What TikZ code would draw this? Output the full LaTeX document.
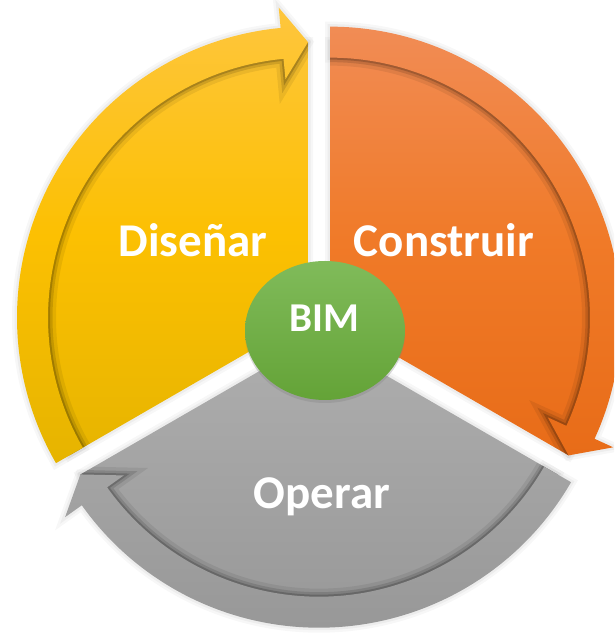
\documentclass[tikz,border=0pt]{standalone}
\usepackage{fontspec}
\setmainfont{Carlito}
\usetikzlibrary{shapes.geometric,shadows}
\definecolor{ytop}{RGB}{254,198,62}
\definecolor{ymid}{RGB}{252,192,2}
\definecolor{ybot}{RGB}{230,180,0}
\definecolor{otop}{RGB}{241,140,85}
\definecolor{omid}{RGB}{240,122,40}
\definecolor{obot}{RGB}{232,108,24}
\definecolor{gtop}{RGB}{174,174,174}
\definecolor{gbot}{RGB}{152,152,152}
\definecolor{etop}{RGB}{128,187,90}
\definecolor{ebot}{RGB}{100,163,55}
\newcommand{\bodyp}[2]{(0,0) -- (#1:275.5) arc[start angle=#1, end angle=#2, radius=275.5] -- cycle}
\newcommand{\rimp}[2]{(#1:260) -- (#1:291) arc[start angle=#1, end angle={#2+5.4}, radius=291] -- ({#2+5.4}:311.5) -- (#2:275.5) -- ({#2+5.4}:239.5) -- ({#2+5.4}:260) arc[start angle={#2+5.4}, end angle=#1, radius=260] -- cycle}
\begin{document}
\begin{tikzpicture}[x=1pt,y=1pt,
  lbl/.style={text=white, font=\fontsize{47}{54}\selectfont\bfseries, anchor=base, inner sep=0pt},
  oshA/.style={draw=black, opacity=0.03, line width=10},
  oshB/.style={draw=black, opacity=0.04, line width=5},
  sh1/.style={draw=black, opacity=0.07, line width=16},
  sh2/.style={draw=black, opacity=0.12, line width=9},
  sh3/.style={draw=black, opacity=0.18, line width=4}]
\useasboundingbox (0,0) rectangle (614,634);
\clip (0,0) rectangle (614,634);
% outer shadows
\begin{scope}[shift={(308,316.35)}]
  \path[oshA] \bodyp{210}{90}; \path[oshA] \rimp{210}{90};
  \path[oshB] \bodyp{210}{90}; \path[oshB] \rimp{210}{90};
\end{scope}
\begin{scope}[shift={(330,316.35)}]
  \path[oshA] \bodyp{90}{-30}; \path[oshA] \rimp{90}{-30};
  \path[oshB] \bodyp{90}{-30}; \path[oshB] \rimp{90}{-30};
\end{scope}
\begin{scope}[shift={(319,297.3)}]
  \path[oshA] \bodyp{330}{210}; \path[oshA] \rimp{330}{210};
  \path[oshB] \bodyp{330}{210}; \path[oshB] \rimp{330}{210};
\end{scope}
% yellow
\begin{scope}[shift={(308,316.35)}]
  \begin{scope}
    \clip \bodyp{210}{90};
    \shade[top color=ytop, bottom color=ybot, middle color=ymid] (-300,-146) rectangle (10,311);
    \path[sh1] \rimp{210}{90};
    \path[sh2] \rimp{210}{90};
    \path[sh3] \rimp{210}{90};
  \end{scope}
  \begin{scope}
    \clip \rimp{210}{90};
    \shade[top color=ytop, bottom color=ybot, middle color=ymid] (-300,-146) rectangle (10,311);
  \end{scope}
\end{scope}
% orange
\begin{scope}[shift={(330,316.35)}]
  \begin{scope}
    \clip \bodyp{90}{-30};
    \shade[top color=otop, bottom color=obot, middle color=omid] (-10,-138) rectangle (320,291);
    \path[sh1] \rimp{90}{-30};
    \path[sh2] \rimp{90}{-30};
    \path[sh3] \rimp{90}{-30};
  \end{scope}
  \begin{scope}
    \clip \rimp{90}{-30};
    \shade[top color=otop, bottom color=obot, middle color=omid] (-10,-138) rectangle (320,291);
  \end{scope}
\end{scope}
% gray
\begin{scope}[shift={(319,297.3)}]
  \begin{scope}
    \clip \bodyp{330}{210};
    \shade[top color=gtop, bottom color=gbot] (-300,-291) rectangle (300,0);
    \path[sh1] \rimp{330}{210};
    \path[sh2] \rimp{330}{210};
    \path[sh3] \rimp{330}{210};
  \end{scope}
  \begin{scope}
    \clip \rimp{330}{210};
    \shade[top color=gtop, bottom color=gbot] (-300,-291) rectangle (300,0);
  \end{scope}
\end{scope}
% labels
\node[lbl] (dis) at (193,377.2) {Diseñar};
\node[lbl] (con) at (444,377.2) {Construir};
\node[lbl] (ope) at (322,125.3) {Operar};
% centre
\node[ellipse, minimum width=160pt, minimum height=139pt, inner sep=0pt,
      top color=etop, bottom color=ebot,
      drop shadow={shadow xshift=0pt, shadow yshift=-3pt, opacity=0.3}] (bim) at (325,303.5) {};
\node[lbl, font=\fontsize{41}{47}\selectfont\bfseries] (bimtxt) at (324,302.4) {BIM};
\end{tikzpicture}
\end{document}
